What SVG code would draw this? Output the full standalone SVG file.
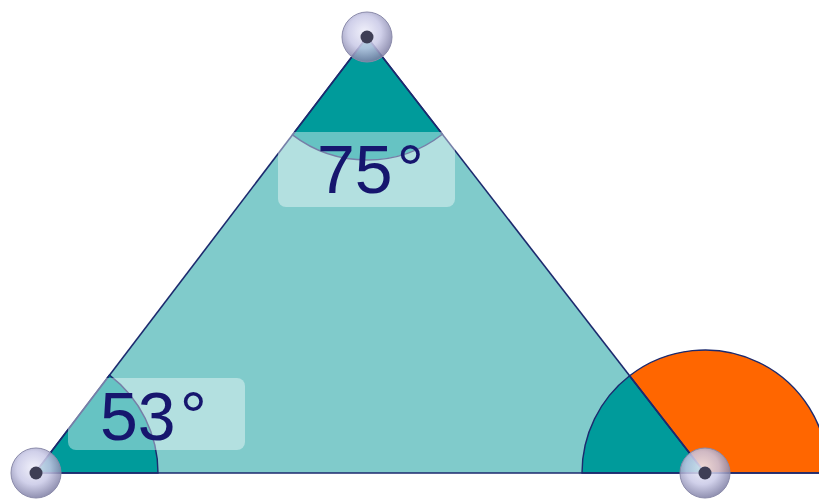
<svg xmlns="http://www.w3.org/2000/svg" width="819" height="500" viewBox="0 0 819 500">
  <defs>
    <radialGradient id="sph" cx="0.45" cy="0.4" r="0.6">
      <stop offset="0" stop-color="#eeeefa"/>
      <stop offset="0.55" stop-color="#c8c8e6"/>
      <stop offset="1" stop-color="#7e7ea4"/>
    </radialGradient>
  </defs>
  <style>
    .edge{stroke:#1c2a6e;stroke-width:1.6;fill:none;stroke-linejoin:round}
    .sector{fill:#009b9b;stroke:#1c2a6e;stroke-width:1.4}
    .ext{fill:#ff6600;stroke:#1c2a6e;stroke-width:1.4}
    .box{fill:#ffffff;fill-opacity:0.4}
    .lbl{font-family:"Liberation Sans",Arial,sans-serif;font-size:68px;fill:#16166e}
    .pt{fill:url(#sph);fill-opacity:0.85;stroke:#8a8aaa;stroke-width:1}
    .dot{fill:#3e3e55}
  </style>
  <g id="triangle">
    <polygon points="35,473 367,37 705,473" fill="#80cbcb"/>
  </g>
  <g id="angle-A">
    <path class="sector" d="M35,473 L158,473 A123,123 0 0,0 109.5,375.1 Z"/>
  </g>
  <g id="angle-C">
    <path class="sector" d="M367,37 L292.5,134.9 A123,123 0 0,0 442.4,134.2 Z"/>
  </g>
  <g id="angle-B">
    <path class="sector" d="M705,473 L629.6,375.8 A123,123 0 0,0 582,473 Z"/>
  </g>
  <g id="exterior-angle-B">
    <path class="ext" d="M705,473 L828,473 A123,123 0 0,0 629.6,375.8 Z"/>
  </g>
  <g id="connectors">
    <line class="edge" x1="35" y1="473" x2="367" y2="37"/>
    <line class="edge" x1="367" y1="37" x2="705" y2="473"/>
    <line class="edge" x1="35" y1="473" x2="819" y2="473"/>
  </g>
  <g id="label-75">
    <rect class="box" x="278" y="132" width="177" height="75" rx="8"/>
    <text class="lbl" x="317" y="193">75<tspan dx="4">°</tspan></text>
  </g>
  <g id="label-53">
    <rect class="box" x="68" y="378" width="177" height="72" rx="8"/>
    <text class="lbl" x="100" y="440">53<tspan dx="4">°</tspan></text>
  </g>
  <g id="point-C">
    <circle class="pt" cx="367" cy="37" r="25"/>
    <circle class="dot" cx="367" cy="37" r="6.5"/>
  </g>
  <g id="point-A">
    <circle class="pt" cx="36" cy="473" r="25"/>
    <circle class="dot" cx="36" cy="473" r="6.5"/>
  </g>
  <g id="point-B">
    <circle class="pt" cx="705" cy="473" r="25"/>
    <circle class="dot" cx="705" cy="473" r="6.5"/>
  </g>
</svg>
